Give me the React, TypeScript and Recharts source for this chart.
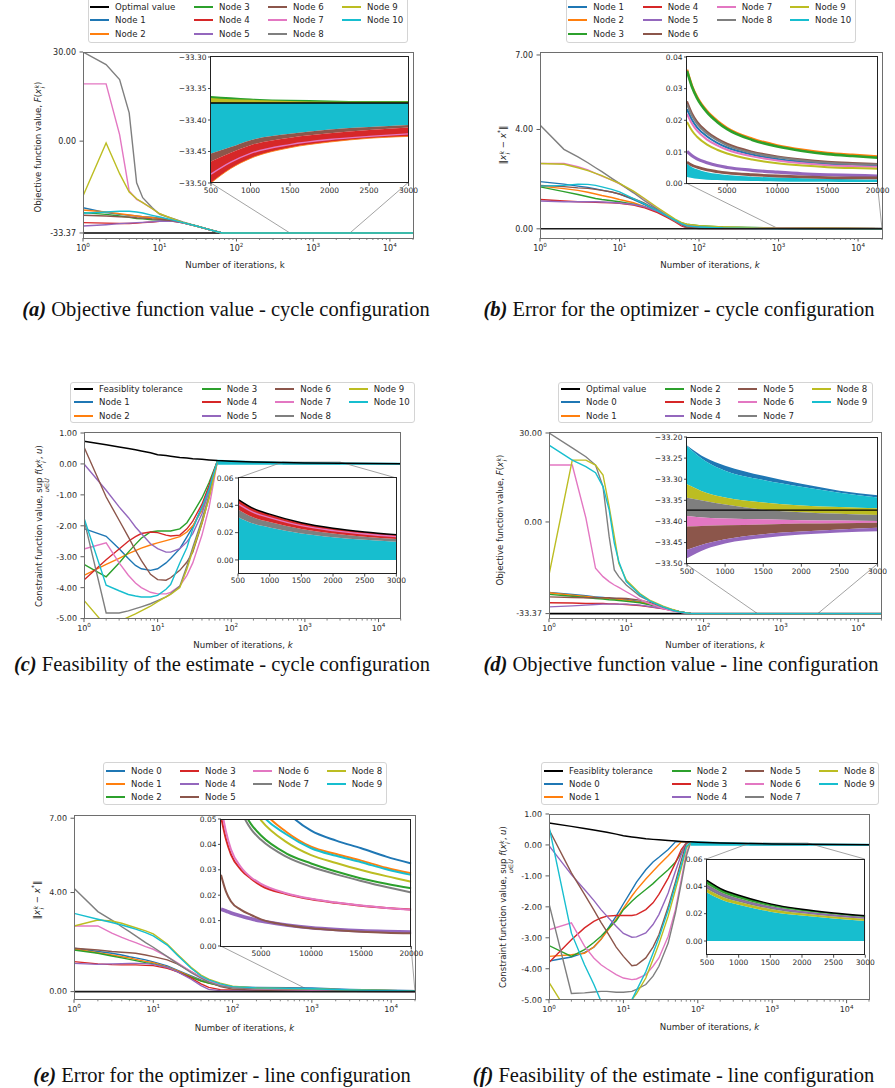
import React from 'react';
import { ComposedChart, Line, Area, XAxis, YAxis, ReferenceLine, ReferenceArea } from 'recharts';

const FONT = '"DejaVu Sans", Verdana, sans-serif';
const SERIF = '"Liberation Serif", "Times New Roman", serif';
const TXT = '#262626';
const BLUE = '#1f77b4', ORANGE = '#ff7f0e', GREEN = '#2ca02c', RED = '#d62728', PURPLE = '#9467bd';
const BROWN = '#8c564b', PINK = '#e377c2', GRAY = '#7f7f7f', OLIVE = '#bcbd22', CYAN = '#17becf', BLACK = '#000000';
const TAB = [BLUE, ORANGE, GREEN, RED, PURPLE, BROWN, PINK, GRAY, OLIVE, CYAN];

const X_MAX = 20000;
const X_TICKS = [1, 2, 3, 4, 5, 6, 7, 8, 9, 10, 20, 30, 40, 50, 60, 70, 80, 90, 100, 200, 300, 400, 500, 600, 700, 800, 900, 1000, 2000, 3000, 4000, 5000, 6000, 7000, 8000, 9000, 10000, 20000];
const TN = [null, null, null, null, null, null];

// ---------- (a) objective, cycle ----------
const K_A = [1, 2, 3, 4, 5, 6, 8, 10, 15, 20, 30, 40, 50, 65, 100, 1000, 20000];
const A_OPT = [-33.373, -33.373, -33.373, -33.373, -33.373, -33.373, -33.373, -33.373, -33.373, -33.373, -33.373, -33.373, -33.373, -33.373, -33.373, -33.373, -33.373];
const A_N1 = [-12.0, -14.7, -15.8, -16.4, -16.9, -17.4, -17.8, -18.4, -20.2, -22.1, -25.3, -28.1, -30.5, -33.37, -33.37, -33.37, -33.37];
const A_N2 = [-13.2, -14.3, -15.4, -16.2, -16.9, -17.4, -18.1, -18.7, -20.2, -22.1, -25.3, -28.1, -30.5, -33.37, -33.37, -33.37, -33.37];
const A_N3 = [-14.7, -15.8, -16.9, -17.8, -18.7, -19.0, -19.6, -19.9, -20.6, -22.3, -25.3, -28.1, -30.5, -33.37, -33.37, -33.37, -33.37];
const A_N4 = [-22.1, -22.5, -22.8, -22.8, -22.5, -22.1, -21.5, -21.0, -21.0, -22.3, -25.4, -28.2, -30.6, -33.37, -33.37, -33.37, -33.37];
const A_N5 = [-25.3, -24.0, -23.0, -22.5, -22.1, -21.8, -21.3, -20.7, -20.9, -22.3, -25.4, -28.2, -30.6, -33.37, -33.37, -33.37, -33.37];
const A_N6 = [-16.4, -16.9, -17.4, -17.6, -18.1, -18.4, -19.0, -19.3, -20.4, -22.1, -25.3, -28.1, -30.5, -33.37, -33.37, -33.37, -33.37];
const A_N7 = [8.07, 8.07, 0.29, -5.84, -8.4, -9.7, -12.5, -15.4, -19.3, -22.1, -25.3, -28.1, -30.5, -33.37, -33.37, -33.37, -33.37];
const A_N8 = [30, 18.1, 9.7, 1.97, -3.97, -7.84, -12.0, -15.8, -18.8, -21.5, -25.3, -28.1, -30.5, -33.37, -33.37, -33.37, -33.37];
const A_N9 = [-7.3, -0.07, -2.5, -6.1, -8.2, -9.7, -12.5, -15.4, -19.0, -21.8, -25.3, -28.1, -30.5, -33.37, -33.37, -33.37, -33.37];
const A_N10 = [-15.1, -14.3, -13.9, -13.9, -14.3, -14.9, -16.4, -17.6, -19.9, -22.1, -25.3, -28.1, -30.5, -33.37, -33.37, -33.37, -33.37];
const A_NODES = [A_N1, A_N2, A_N3, A_N4, A_N5, A_N6, A_N7, A_N8, A_N9, A_N10];

const KI_A = [500, 750, 1000, 1500, 2000, 2500, 3000];
const AI_OPT = [-33.373, -33.373, -33.373, -33.373, -33.373, -33.373, -33.373];
const AI_GREEN_TOP = [-33.362, -33.364, -33.366, -33.368, -33.369, -33.370, -33.370];
const AI_OLIVE_TOP = [-33.365, -33.367, -33.368, -33.370, -33.371, -33.371, -33.371];
const AI_CYAN_LO = [-33.453, -33.443, -33.432, -33.422, -33.415, -33.411, -33.408];
const AI_BROWN_LO = [-33.466, -33.452, -33.440, -33.428, -33.421, -33.416, -33.412];
const AI_RED_LO = [-33.500, -33.477, -33.461, -33.444, -33.435, -33.429, -33.426];
const AI_PINK = [-33.486, -33.467, -33.453, -33.439, -33.431, -33.426, -33.422];

// ---------- (b) error, cycle ----------
const K_B = [1, 2, 3, 4, 5, 6, 8, 10, 15, 20, 30, 40, 50, 60, 70, 100, 200, 500, 1000, 3000, 20000];
const B_N1 = [1.9, 1.8, 1.72, 1.67, 1.61, 1.56, 1.48, 1.4, 1.18, 0.99, 0.71, 0.48, 0.32, 0.19, 0.08, 0.04, 0.03, 0.026, 0.0235, 0.0149, 0.0058];
const B_N2 = [1.72, 1.62, 1.55, 1.47, 1.4, 1.34, 1.26, 1.18, 1.05, 0.91, 0.69, 0.48, 0.32, 0.19, 0.08, 0.06, 0.05, 0.042, 0.036, 0.0229, 0.0086];
const B_N3 = [1.69, 1.5, 1.38, 1.29, 1.22, 1.18, 1.13, 1.09, 0.99, 0.89, 0.69, 0.48, 0.35, 0.24, 0.19, 0.13, 0.08, 0.05, 0.0356, 0.0225, 0.0082];
const B_N4 = [1.18, 1.12, 1.09, 1.08, 1.07, 1.06, 1.05, 1.03, 0.96, 0.86, 0.65, 0.45, 0.28, 0.12, 0.04, 0.03, 0.028, 0.027, 0.026, 0.0164, 0.0062];
const B_N5 = [1.12, 1.09, 1.09, 1.09, 1.09, 1.08, 1.06, 1.04, 0.98, 0.9, 0.7, 0.5, 0.32, 0.17, 0.05, 0.02, 0.015, 0.012, 0.0102, 0.0066, 0.0024];
const B_N6 = [1.75, 1.7, 1.65, 1.63, 1.59, 1.55, 1.48, 1.4, 1.21, 1.05, 0.75, 0.51, 0.35, 0.19, 0.05, 0.015, 0.01, 0.008, 0.0068, 0.0043, 0.0018];
const B_N7 = [2.63, 2.63, 2.5, 2.37, 2.23, 2.12, 1.96, 1.81, 1.49, 1.22, 0.82, 0.55, 0.35, 0.21, 0.15, 0.09, 0.05, 0.03, 0.022, 0.0139, 0.0053];
const B_N8 = [4.18, 3.2, 2.9, 2.66, 2.46, 2.3, 2.03, 1.83, 1.45, 1.16, 0.78, 0.51, 0.31, 0.19, 0.13, 0.09, 0.05, 0.032, 0.025, 0.0158, 0.006];
const B_N9 = [2.63, 2.6, 2.46, 2.34, 2.23, 2.14, 1.96, 1.83, 1.52, 1.25, 0.86, 0.59, 0.39, 0.26, 0.19, 0.13, 0.08, 0.03, 0.0195, 0.0123, 0.0047];
const B_N10 = [1.72, 1.75, 1.8, 1.79, 1.75, 1.69, 1.59, 1.49, 1.22, 1.02, 0.73, 0.51, 0.35, 0.21, 0.12, 0.07, 0.03, 0.01, 0.005, 0.003, 0.0012];
const B_NODES = [B_N1, B_N2, B_N3, B_N4, B_N5, B_N6, B_N7, B_N8, B_N9, B_N10];

const KI_B = [1000, 1500, 2000, 3000, 4000, 5000, 7500, 10000, 12500, 15000, 17500, 20000];
const BI_GREEN = [0.0356, 0.0305, 0.027, 0.0225, 0.0195, 0.0172, 0.0138, 0.0117, 0.0103, 0.0093, 0.0087, 0.0082];
const BI_ORANGE = [0.036, 0.0309, 0.0274, 0.0229, 0.0199, 0.0176, 0.0142, 0.0121, 0.0107, 0.0097, 0.0091, 0.0086];
const BI_RED = [0.026, 0.0222, 0.0196, 0.0164, 0.0142, 0.0126, 0.0101, 0.0086, 0.0076, 0.0069, 0.0065, 0.0062];
const BI_GRAY = [0.025, 0.0214, 0.0189, 0.0158, 0.0137, 0.0121, 0.0097, 0.0083, 0.0073, 0.0066, 0.0062, 0.006];
const BI_BLUE = [0.0235, 0.0201, 0.0178, 0.0149, 0.0129, 0.0114, 0.0092, 0.0078, 0.0069, 0.0063, 0.006, 0.0058];
const BI_PINK = [0.022, 0.0189, 0.0167, 0.0139, 0.0121, 0.0107, 0.0086, 0.0073, 0.0064, 0.0058, 0.0055, 0.0053];
const BI_OLIVE = [0.0195, 0.0167, 0.0148, 0.0123, 0.0107, 0.0095, 0.0076, 0.0064, 0.0057, 0.0052, 0.0049, 0.0047];
const BI_PURPLE = [0.0102, 0.0088, 0.0078, 0.0066, 0.0057, 0.0051, 0.0042, 0.0036, 0.0031, 0.0028, 0.0026, 0.0024];
const BI_BROWN = [0.0068, 0.0058, 0.0052, 0.0043, 0.0038, 0.0034, 0.0028, 0.0024, 0.0021, 0.0019, 0.0018, 0.0018];
const BI_CYAN_HI = [0.0063, 0.0052, 0.0045, 0.0036, 0.0031, 0.0027, 0.0022, 0.0019, 0.0017, 0.0015, 0.0014, 0.0013];
const BI_CYAN_LO = [0.0021, 0.0018, 0.0015, 0.0012, 0.0011, 0.001, 0.0008, 0.0007, 0.0006, 0.0006, 0.0005, 0.0005];

// ---------- (c) feasibility, cycle ----------
const K_C = [1, 2, 3, 4, 5, 6, 8, 10, 13, 15, 20, 25, 30, 40, 50, 65, 100, 200, 500, 1000, 3000, 20000];
const C_TOL = [0.73, 0.62, 0.55, 0.5, 0.46, 0.42, 0.36, 0.3, 0.27, 0.25, 0.21, 0.19, 0.17, 0.15, 0.13, 0.11, 0.09, 0.065, 0.044, 0.033, 0.019, 0.007];
const C_BAND = [null, null, null, null, null, null, null, null, null, null, null, null, null, null, null, [0, 0.11], [0, 0.09], [0, 0.065], [0, 0.044], [0, 0.033], [0, 0.019], [0, 0.007]];
const C_N1 = [-2.09, -2.34, -2.74, -3.06, -3.28, -3.39, -3.44, -3.39, -3.2, -3.06, -2.74, -2.36, -2.04, -1.39, -0.74, 0.1, ...TN];
const C_N2 = [-3.6, -3.25, -3.05, -2.9, -2.8, -2.72, -2.62, -2.55, -2.48, -2.44, -2.35, -2.2, -2.0, -1.5, -0.85, 0.1, ...TN];
const C_N3 = [-3.25, -3.65, -3.2, -2.85, -2.6, -2.4, -2.2, -2.17, -2.17, -2.17, -2.1, -1.9, -1.6, -1.1, -0.6, 0.1, ...TN];
const C_N4 = [-3.75, -3.1, -2.75, -2.5, -2.35, -2.25, -2.2, -2.22, -2.3, -2.33, -2.3, -2.1, -1.85, -1.3, -0.7, 0.1, ...TN];
const C_N5 = [0.0, -0.85, -1.39, -1.73, -2.04, -2.25, -2.58, -2.74, -2.85, -2.85, -2.74, -2.52, -2.25, -1.61, -0.85, 0.1, ...TN];
const C_N6 = [0.55, -1.07, -1.82, -2.36, -2.79, -3.12, -3.57, -3.74, -3.76, -3.68, -3.44, -3.17, -2.85, -1.93, -1.07, 0.1, ...TN];
const C_N7 = [-2.75, -2.55, -3.2, -3.6, -3.85, -4.0, -4.15, -4.2, -4.2, -4.15, -3.95, -3.6, -3.2, -2.3, -1.4, 0.1, ...TN];
const C_N8 = [-1.8, -4.82, -4.82, -4.75, -4.68, -4.62, -4.52, -4.42, -4.3, -4.2, -3.95, -3.3, -2.7, -1.8, -1.0, 0.1, ...TN];
const C_N9 = [-4.41, -5.25, -5.1, -4.95, -4.85, -4.75, -4.6, -4.45, -4.3, -4.22, -4.0, -3.4, -2.8, -1.9, -1.1, 0.1, ...TN];
const C_N10 = [-1.75, -3.92, -4.1, -4.22, -4.27, -4.3, -4.3, -4.25, -4.05, -3.9, -3.2, -2.7, -2.1, -1.4, -0.8, 0.1, ...TN];
const C_NODES = [C_N1, C_N2, C_N3, C_N4, C_N5, C_N6, C_N7, C_N8, C_N9, C_N10];

const KI_C = [500, 750, 1000, 1500, 2000, 2500, 3000];
const ZERO7 = [0, 0, 0, 0, 0, 0, 0];
const CI_TOL = [0.0444, 0.0375, 0.0335, 0.0272, 0.0232, 0.0205, 0.0185];
const CI_PINK = [0.041, 0.0346, 0.031, 0.0251, 0.0215, 0.019, 0.0171];
const CI_RED_LO = [0.037, 0.031, 0.0278, 0.0226, 0.0193, 0.017, 0.0153];
const CI_CYAN_HI = [0.0315, 0.0265, 0.0238, 0.0193, 0.0166, 0.0147, 0.0133];

// ---------- (d) objective, line ----------
const K_D = [1, 2, 3, 4, 5, 6, 7, 8, 10, 15, 20, 30, 40, 50, 70, 100, 1000, 20000];
const D_OPT = [-33.373, -33.373, -33.373, -33.373, -33.373, -33.373, -33.373, -33.373, -33.373, -33.373, -33.373, -33.373, -33.373, -33.373, -33.373, -33.373, -33.373, -33.373];
const D_N0 = [-14.2, -15.4, -16.3, -17.0, -17.5, -18.0, -18.2, -18.5, -19.0, -20.8, -22.9, -26.1, -29.2, -31.2, -33.37, -33.37, -33.37, -33.37];
const D_N1 = [-14.4, -15.9, -16.8, -17.5, -18.0, -18.5, -18.7, -19.0, -19.4, -21.1, -22.9, -26.1, -29.2, -31.2, -33.37, -33.37, -33.37, -33.37];
const D_N2 = [-15.4, -16.6, -17.5, -18.2, -18.7, -19.2, -19.4, -19.7, -20.3, -21.6, -23.5, -26.5, -29.2, -31.2, -33.37, -33.37, -33.37, -33.37];
const D_N3 = [-21.6, -21.9, -22.3, -22.3, -22.3, -22.6, -22.6, -22.9, -23.2, -24.1, -25.5, -27.6, -29.6, -31.6, -33.37, -33.37, -33.37, -33.37];
const D_N4 = [-25.5, -24.5, -23.8, -23.2, -22.9, -22.9, -22.9, -22.9, -22.9, -23.8, -25.1, -27.3, -29.6, -31.6, -33.37, -33.37, -33.37, -33.37];
const D_N5 = [-17.0, -17.5, -17.7, -17.7, -17.7, -17.7, -18.0, -18.0, -18.2, -19.4, -21.3, -25.5, -28.8, -31.2, -33.37, -33.37, -33.37, -33.37];
const D_N6 = [8.0, 8.0, 0.17, -4.98, -7.26, -9.0, -10.4, -11.5, -13.8, -18.9, -22.3, -27.4, -30.2, -31.6, -33.37, -33.37, -33.37, -33.37];
const D_N7 = [30, 16.5, 11.4, 8.0, 2.92, -0.75, -5.37, -7.26, -10.4, -16.5, -20.0, -25.5, -29.2, -31.2, -33.37, -33.37, -33.37, -33.37];
const D_N8 = [-6.74, 9.9, 9.9, 8.0, 5.13, 0.82, -0.75, -3.92, -8.4, -14.8, -19.4, -24.9, -28.4, -31.2, -33.37, -33.37, -33.37, -33.37];
const D_N9 = [18.4, 9.9, 7.44, 5.7, 2.92, 0.6, -1.26, -3.6, -9.0, -15.4, -20.0, -25.5, -29.2, -31.4, -33.37, -33.37, -33.37, -33.37];
const D_NODES = [D_N0, D_N1, D_N2, D_N3, D_N4, D_N5, D_N6, D_N7, D_N8, D_N9];

const KI_D = [500, 750, 1000, 1500, 2000, 2500, 3000];
const DI_OPT = [-33.373, -33.373, -33.373, -33.373, -33.373, -33.373, -33.373];
const DI_BLUE_TOP = [-33.220, -33.250, -33.268, -33.292, -33.311, -33.327, -33.338];
const DI_CYAN_TOP = [-33.222, -33.258, -33.280, -33.302, -33.318, -33.332, -33.343];
const DI_OLIVE_TOP = [-33.312, -33.332, -33.343, -33.355, -33.362, -33.366, -33.369];
const DI_GRAY_TOP = [-33.344, -33.352, -33.360, -33.372, -33.378, -33.382, -33.385];
const DI_PINK_TOP = [-33.387, -33.391, -33.393, -33.395, -33.397, -33.398, -33.399];
const DI_BROWN_TOP = [-33.412, -33.410, -33.409, -33.407, -33.405, -33.404, -33.403];
const DI_PURPLE_TOP = [-33.467, -33.452, -33.442, -33.430, -33.424, -33.419, -33.415];
const DI_PURPLE_LO = [-33.487, -33.465, -33.452, -33.439, -33.431, -33.426, -33.423];

// ---------- (e) error, line ----------
const K_E = [1, 2, 3, 4, 5, 6, 8, 10, 15, 20, 30, 40, 50, 70, 100, 200, 500, 1000, 3000, 20000];
const E_N0 = [1.75, 1.62, 1.55, 1.48, 1.41, 1.36, 1.28, 1.2, 1.04, 0.87, 0.63, 0.47, 0.36, 0.26, 0.2, 0.17, 0.155, 0.145, 0.084, 0.0325];
const E_N1 = [1.72, 1.57, 1.48, 1.41, 1.36, 1.3, 1.22, 1.17, 1.0, 0.85, 0.6, 0.44, 0.34, 0.24, 0.17, 0.14, 0.13, 0.12, 0.07, 0.0286];
const E_N2 = [1.68, 1.55, 1.44, 1.36, 1.3, 1.25, 1.17, 1.12, 0.98, 0.81, 0.58, 0.43, 0.34, 0.23, 0.15, 0.115, 0.1, 0.095, 0.055, 0.0227];
const E_N3 = [1.21, 1.12, 1.09, 1.08, 1.08, 1.08, 1.06, 1.05, 0.94, 0.81, 0.54, 0.31, 0.17, 0.08, 0.07, 0.065, 0.058, 0.051, 0.03, 0.0144];
const E_N4 = [1.14, 1.1, 1.12, 1.13, 1.14, 1.14, 1.13, 1.1, 0.98, 0.81, 0.5, 0.24, 0.09, 0.04, 0.03, 0.022, 0.017, 0.0145, 0.0118, 0.0055];
const E_N5 = [1.75, 1.68, 1.62, 1.59, 1.57, 1.55, 1.48, 1.41, 1.28, 1.12, 0.81, 0.58, 0.4, 0.2, 0.1, 0.06, 0.04, 0.028, 0.0142, 0.005];
const E_N6 = [2.65, 2.65, 2.36, 2.19, 2.07, 1.98, 1.82, 1.71, 1.41, 1.17, 0.81, 0.58, 0.43, 0.27, 0.16, 0.1, 0.07, 0.055, 0.031, 0.0143];
const E_N7 = [4.17, 3.23, 2.89, 2.62, 2.42, 2.25, 1.98, 1.79, 1.41, 1.14, 0.77, 0.54, 0.38, 0.23, 0.15, 0.11, 0.1, 0.09, 0.053, 0.0211];
const E_N8 = [2.65, 2.89, 2.85, 2.76, 2.66, 2.58, 2.45, 2.33, 1.92, 1.52, 0.98, 0.67, 0.5, 0.34, 0.22, 0.15, 0.12, 0.11, 0.064, 0.0253];
const E_N9 = [3.16, 2.92, 2.79, 2.69, 2.6, 2.52, 2.38, 2.25, 1.88, 1.48, 0.94, 0.63, 0.47, 0.31, 0.2, 0.15, 0.13, 0.115, 0.068, 0.028];
const E_NODES = [E_N0, E_N1, E_N2, E_N3, E_N4, E_N5, E_N6, E_N7, E_N8, E_N9];

const KI_E = [1000, 1500, 2000, 3000, 4000, 5000, 7500, 10000, 12500, 15000, 17500, 20000];
const EI_N0 = [0.145, 0.118, 0.103, 0.084, 0.073, 0.065, 0.053, 0.0454, 0.0415, 0.0385, 0.0352, 0.0325];
const EI_N1 = [0.12, 0.098, 0.085, 0.07, 0.06, 0.054, 0.045, 0.0391, 0.0362, 0.0336, 0.0308, 0.0286];
const EI_N2 = [0.095, 0.077, 0.066, 0.055, 0.048, 0.0435, 0.0365, 0.0325, 0.0293, 0.0266, 0.0245, 0.0227];
const EI_N3 = [0.051, 0.042, 0.036, 0.030, 0.0265, 0.0238, 0.0205, 0.0184, 0.017, 0.0158, 0.015, 0.0144];
const EI_N4 = [0.0145, 0.0138, 0.013, 0.0118, 0.0107, 0.0098, 0.0083, 0.0072, 0.0065, 0.006, 0.0057, 0.0055];
const EI_N5 = [0.028, 0.0214, 0.0175, 0.0142, 0.0122, 0.0105, 0.0083, 0.007, 0.0062, 0.0056, 0.0052, 0.005];
const EI_N6 = [0.055, 0.045, 0.038, 0.031, 0.027, 0.0245, 0.0208, 0.0186, 0.0171, 0.0159, 0.015, 0.0143];
const EI_N7 = [0.09, 0.073, 0.063, 0.053, 0.046, 0.0418, 0.0352, 0.0312, 0.0282, 0.0256, 0.0232, 0.0211];
const EI_N8 = [0.11, 0.09, 0.078, 0.064, 0.055, 0.0495, 0.041, 0.0358, 0.0327, 0.0299, 0.0275, 0.0253];
const EI_N9 = [0.115, 0.094, 0.082, 0.068, 0.058, 0.052, 0.044, 0.0385, 0.0355, 0.033, 0.0302, 0.028];
const EI_NODES = [EI_N0, EI_N1, EI_N2, EI_N3, EI_N4, EI_N5, EI_N6, EI_N7, EI_N8, EI_N9];

// ---------- (f) feasibility, line ----------
const K_F = [1, 2, 3, 4, 5, 6, 8, 10, 13, 15, 20, 25, 30, 40, 50, 60, 70, 80, 100, 200, 500, 1000, 3000, 20000];
const F_TOL = [0.71, 0.6, 0.53, 0.48, 0.44, 0.41, 0.35, 0.3, 0.26, 0.24, 0.2, 0.18, 0.165, 0.145, 0.13, 0.115, 0.105, 0.1, 0.09, 0.065, 0.044, 0.033, 0.019, 0.007];
const F_BAND = [null, null, null, null, null, null, null, null, null, null, null, null, null, null, null, null, null, [0, 0.1], [0, 0.09], [0, 0.065], [0, 0.044], [0, 0.033], [0, 0.019], [0, 0.007]];
const F_N0 = [-3.75, -3.62, -3.48, -3.3, -3.05, -2.75, -2.3, -1.9, -1.45, -1.2, -0.8, -0.55, -0.4, -0.15, 0.1, 0.1, 0.1, 0.1, ...TN];
const F_N1 = [-3.6, -3.55, -3.5, -3.3, -3.05, -2.8, -2.4, -2.05, -1.65, -1.45, -1.1, -0.85, -0.65, -0.35, -0.1, 0.1, 0.1, 0.1, ...TN];
const F_N2 = [-3.25, -3.6, -3.38, -3.15, -2.95, -2.75, -2.45, -2.09, -1.82, -1.68, -1.44, -1.25, -1.07, -0.8, -0.56, -0.26, 0.07, 0.1, ...TN];
const F_N3 = [-3.8, -3.06, -2.68, -2.47, -2.36, -2.3, -2.28, -2.28, -2.28, -2.25, -2.09, -1.87, -1.6, -1.07, -0.58, -0.15, 0.07, 0.1, ...TN];
const F_N4 = [-0.02, -0.96, -1.44, -1.79, -2.09, -2.3, -2.63, -2.86, -2.98, -2.97, -2.84, -2.57, -2.25, -1.55, -0.85, -0.31, 0.07, 0.1, ...TN];
const F_N5 = [0.5, -0.9, -1.6, -2.1, -2.5, -2.8, -3.3, -3.6, -3.9, -3.88, -3.65, -3.3, -2.9, -2.0, -1.2, -0.5, 0.05, 0.1, ...TN];
const F_N6 = [-2.74, -2.52, -3.27, -3.65, -3.87, -4.0, -4.19, -4.3, -4.35, -4.33, -4.19, -3.92, -3.65, -2.95, -2.09, -1.12, -0.26, 0.08, ...TN];
const F_N7 = [-1.9, -4.8, -4.78, -4.75, -4.73, -4.73, -4.76, -4.76, -4.73, -4.67, -4.51, -4.24, -3.92, -3.17, -2.2, -1.23, -0.37, 0.08, ...TN];
const F_N8 = [-4.44, -5.6, -6.0, -6.2, -6.3, -6.3, -6.0, -5.4, -5.0, -4.8, -4.3, -3.7, -3.2, -2.3, -1.45, -0.75, -0.1, 0.08, ...TN];
const F_N9 = [0.6, -2.85, -3.87, -4.5, -5.05, -5.4, -5.6, -5.4, -5.0, -4.7, -4.1, -3.5, -3.0, -2.1, -1.3, -0.65, -0.05, 0.08, ...TN];
const F_NODES = [F_N0, F_N1, F_N2, F_N3, F_N4, F_N5, F_N6, F_N7, F_N8, F_N9];

const KI_F = [500, 750, 1000, 1500, 2000, 2500, 3000];
const FI_TOL = [0.0444, 0.0375, 0.0335, 0.0272, 0.0232, 0.0205, 0.0185];
const FI_GREEN_LO = [0.0415, 0.0352, 0.0313, 0.0256, 0.022, 0.0195, 0.0175];
const FI_PURPLE = [0.0398, 0.0337, 0.03, 0.0246, 0.0212, 0.0188, 0.0169];
const FI_GRAY_LO = [0.038, 0.0322, 0.0287, 0.0235, 0.0203, 0.018, 0.0163];
const FI_CYAN_HI = [0.0355, 0.0298, 0.0265, 0.0215, 0.0186, 0.0164, 0.0146];

// ---------- tick labels ----------
const Y_OBJ = [-33.373, 0, 30];
const Y_ERR = [0, 4, 7];
const Y_CON = [-5, -4, -3, -2, -1, 0, 1];
const YI_OBJ_A = [-33.5, -33.45, -33.4, -33.35, -33.3];
const YI_OBJ_D = [-33.5, -33.45, -33.4, -33.35, -33.3, -33.25, -33.2];
const YI_ERR_B = [0, 0.01, 0.02, 0.03, 0.04];
const YI_ERR_E = [0, 0.01, 0.02, 0.03, 0.04, 0.05];
const YI_CON = [0, 0.02, 0.04, 0.06];
const XI_SHORT = [500, 1000, 1500, 2000, 2500, 3000];
const XI_LONG = [5000, 10000, 15000, 20000];

// ---------- layout boxes ----------
const BOX_A = { L: 83.3, T: 52, W: 330, H: 186 };
const BOX_AI = { L: 210.7, T: 56.7, W: 197.6, H: 126 };
const BOX_B = { L: 540, T: 52, W: 342, H: 186 };
const BOX_BI = { L: 686.7, T: 56.7, W: 190.6, H: 126.6 };
const BOX_C = { L: 84.3, T: 432.7, W: 316.7, H: 185.6 };
const BOX_CI = { L: 238.3, T: 477.7, W: 158.4, H: 95.6 };
const BOX_D = { L: 549.3, T: 432.7, W: 332.4, H: 185.6 };
const BOX_DI = { L: 686.7, T: 437.3, W: 190.6, H: 126.7 };
const BOX_E = { L: 74, T: 815, W: 341, H: 184.3 };
const BOX_EI = { L: 220.7, T: 819, W: 190.3, H: 127 };
const BOX_F = { L: 549.3, T: 814.3, W: 320, H: 185.7 };
const BOX_FI = { L: 706.7, T: 859.3, W: 158.3, H: 95.7 };

const DOM_OBJ = [-40.7, 30];
const DOM_B = [-0.37, 7.12];
const DOM_E = [-0.31, 7.13];
const DOM_CON = [-5, 1];

// ---------- helpers ----------
function mkTable(ks: number[], nodes: any[][], extra: Record<string, any[]> = {}) {
  return ks.map((k, i) => {
    const o: any = { k };
    nodes.forEach((s, j) => { o['n' + j] = s[i]; });
    Object.keys(extra).forEach((key) => { o[key] = extra[key][i]; });
    return o;
  });
}
function band(lo: number[], hi: number[]) { return lo.map((v, i) => [v, hi[i]]); }
const fmt2 = (v: number) => v.toFixed(2);
const fmtU = (v: number) => (v < 0 ? '\u2212' : '') + Math.abs(v).toFixed(2);
const fmtI = (v: number) => String(v);

function invLogX(px: number, b: any) { return Math.pow(10, ((px - b.L) / b.W) * Math.log10(X_MAX)); }
function invLinY(py: number, b: any, d: number[]) { return d[1] - ((py - b.T) / b.H) * (d[1] - d[0]); }
function invSymY(py: number, b: any, d: number[]) {
  const f = (v: number) => Math.sign(v) * Math.log1p(Math.abs(v));
  const t = f(d[1]) - ((py - b.T) / b.H) * (f(d[1]) - f(d[0]));
  return Math.sign(t) * Math.expm1(Math.abs(t));
}

const LW = 1.4;
const ln = (key: string, color: string, w = LW, type: any = 'linear') => (
  <Line key={key} dataKey={key} stroke={color} strokeWidth={w} dot={false} activeDot={false} isAnimationActive={false} type={type} />
);
const ar = (key: string, color: string, stroke: string = 'none', sw = 0, type: any = 'monotone') => (
  <Area key={key} dataKey={key} stroke={stroke} strokeWidth={sw} fill={color} fillOpacity={1} isAnimationActive={false} type={type} dot={false} activeDot={false} />
);
const seg = (key: string, p1: any, p2: any) => (
  <ReferenceLine key={key} segment={[p1, p2]} stroke="#8c8c8c" strokeWidth={0.8} ifOverflow="visible" />
);

const TS = 3.5, TM = 3;
function LogTick(p: any) {
  const { x, y, payload } = p;
  const v = payload.value;
  const e = Math.log10(v);
  const major = Math.abs(e - Math.round(e)) < 1e-9;
  const y0 = y - TS - TM;
  return (
    <g>
      <line x1={x} x2={x} y1={y0} y2={y0 + (major ? 3.5 : 2)} stroke="#333" strokeWidth={major ? 0.8 : 0.6} />
      {major ? (
        <text x={x} y={y0 + 12.5} textAnchor="middle" fontSize={8} fontFamily={FONT} fill={TXT}>
          10<tspan dy={-3.6} fontSize={5.6}>{Math.round(e)}</tspan>
        </text>
      ) : null}
    </g>
  );
}

function MainChart({ box, data, yScale, yDomain, yTicks, yFmt, children }: any) {
  const PL = 44, PT = 8, PR = 16, PB = 22;
  return (
    <>
      <div style={{ position: 'absolute', left: box.L - PL, top: box.T - PT }}>
        <ComposedChart width={box.W + PL + PR} height={box.H + PT + PB} data={data} margin={{ top: PT, right: PR, bottom: 0, left: 0 }}>
          <XAxis dataKey="k" type="number" scale="log" domain={[1, X_MAX]} allowDataOverflow ticks={X_TICKS} interval={0}
            height={PB} axisLine={false} tickLine={false} tickSize={TS} tickMargin={TM} tick={(p: any) => <LogTick {...p} />} />
          <YAxis type="number" scale={yScale} domain={yDomain} allowDataOverflow ticks={yTicks} interval={0} tickFormatter={yFmt}
            width={PL} axisLine={false} tickSize={3.5} tickMargin={3.5}
            tick={{ fontSize: 8, fill: TXT, fontFamily: FONT }} tickLine={{ stroke: '#333', strokeWidth: 0.8 }} />
          {children}
        </ComposedChart>
      </div>
      <div style={{ position: 'absolute', left: box.L - 0.5, top: box.T - 0.5, width: box.W + 1, height: box.H + 1, border: '1px solid #6e6e6e', boxSizing: 'border-box', pointerEvents: 'none' }} />
    </>
  );
}

function InsetChart({ box, data, xDomain, xTicks, yDomain, yTicks, yFmt, children }: any) {
  const PL = 36, PT = 6, PR = 16, PB = 16;
  return (
    <>
      <div style={{ position: 'absolute', left: box.L, top: box.T, width: box.W, height: box.H, background: '#fff' }} />
      <div style={{ position: 'absolute', left: box.L - PL, top: box.T - PT }}>
        <ComposedChart width={box.W + PL + PR} height={box.H + PT + PB} data={data} margin={{ top: PT, right: PR, bottom: 0, left: 0 }}>
          <XAxis dataKey="k" type="number" domain={xDomain} allowDataOverflow ticks={xTicks} interval={0} height={PB}
            axisLine={false} tickSize={3} tickMargin={1.5} tickFormatter={fmtI}
            tick={{ fontSize: 7.5, fill: TXT, fontFamily: FONT }} tickLine={{ stroke: '#222', strokeWidth: 0.8 }} />
          <YAxis type="number" domain={yDomain} allowDataOverflow ticks={yTicks} interval={0} tickFormatter={yFmt} width={PL}
            axisLine={false} tickSize={3} tickMargin={1.5}
            tick={{ fontSize: 7.5, fill: TXT, fontFamily: FONT }} tickLine={{ stroke: '#222', strokeWidth: 0.8 }} />
          {children}
        </ComposedChart>
      </div>
      <div style={{ position: 'absolute', left: box.L - 0.5, top: box.T - 0.5, width: box.W + 1, height: box.H + 1, border: '1px solid #222', boxSizing: 'border-box', pointerEvents: 'none' }} />
    </>
  );
}

function LegendBox({ box, colX, rowY, cols }: any) {
  return (
    <>
      <div style={{ position: 'absolute', left: box[0], top: box[1], width: box[2], height: box[3], border: '1px solid #d4d4d4', borderRadius: 3, background: '#fff', boxSizing: 'border-box' }} />
      {cols.map((col: any[], c: number) => col.map((it: any[], r: number) => (
        <React.Fragment key={c + '-' + r}>
          <div style={{ position: 'absolute', left: Math.round(colX[c]), top: Math.round(rowY[r]) - 1, width: 19, height: 2, background: it[1] }} />
          <div style={{ position: 'absolute', left: colX[c] + 25, top: rowY[r], transform: 'translateY(-50%)', fontSize: 8.6, lineHeight: 1, fontFamily: FONT, color: TXT, whiteSpace: 'nowrap' }}>{it[0]}</div>
        </React.Fragment>
      )))}
    </>
  );
}

function Lab({ cx, cy, rot, children }: any) {
  return (
    <div style={{ position: 'absolute', left: cx, top: cy, transform: 'translate(-50%,-50%)' + (rot ? ' rotate(-90deg)' : ''), whiteSpace: 'nowrap', fontSize: 8.6, fontFamily: FONT, color: TXT, lineHeight: 1 }}>{children}</div>
  );
}
const XIK = () => (
  <span style={{ fontStyle: 'italic' }}>x<span style={{ display: 'inline-flex', flexDirection: 'column', fontSize: '0.72em', lineHeight: 0.95, verticalAlign: '0.35em', marginLeft: '0.05em' }}><span>k</span><span>i</span></span></span>
);
const SupU = () => (
  <span style={{ display: 'inline-flex', flexDirection: 'column', alignItems: 'center', lineHeight: 1, verticalAlign: 'top' }}><span>sup</span><span style={{ fontSize: '0.72em', fontStyle: 'italic' }}>u∈U</span></span>
);
const ObjLabel = () => (<span>Objective function value, <i>F</i>(<XIK />)</span>);
const ErrLabel = () => (<span>‖<XIK /> − <i>x</i><sup style={{ fontSize: '0.72em' }}>*</sup>‖</span>);
const ConLabel = () => (<span>Constraint function value, <SupU /> <i>f</i>(<XIK />, <i>u</i>)</span>);

function Caption({ cx, cy, letter, text }: any) {
  return (
    <div style={{ position: 'absolute', left: cx - 300, width: 600, top: cy - 12, textAlign: 'center', fontFamily: SERIF, fontSize: 20.5, lineHeight: '24px', color: '#111', whiteSpace: 'nowrap' }}>
      <b><i>({letter})</i></b> {text}
    </div>
  );
}

const colsOf = (labels: string[], colors: string[], sizes: number[]) => {
  const out: any[] = []; let i = 0;
  sizes.forEach((s) => { const c: any[] = []; for (let r = 0; r < s; r++) { c.push([labels[i], colors[i]]); i++; } out.push(c); });
  return out;
};
const NODES_1 = ['Node 1', 'Node 2', 'Node 3', 'Node 4', 'Node 5', 'Node 6', 'Node 7', 'Node 8', 'Node 9', 'Node 10'];
const NODES_0 = ['Node 0', 'Node 1', 'Node 2', 'Node 3', 'Node 4', 'Node 5', 'Node 6', 'Node 7', 'Node 8', 'Node 9'];

// ---------- tables ----------
const DATA_A = mkTable(K_A, A_NODES, { opt: A_OPT });
const DATA_AI = mkTable(KI_A, [], {
  cyan: band(AI_CYAN_LO, AI_OPT), brown: band(AI_BROWN_LO, AI_CYAN_LO), red: band(AI_RED_LO, AI_BROWN_LO),
  green: band(AI_OPT, AI_GREEN_TOP), olive: band(AI_OPT, AI_OLIVE_TOP), pink: AI_PINK, orange: AI_RED_LO, opt: AI_OPT,
});
const DATA_B = mkTable(K_B, B_NODES);
const DATA_BI = mkTable(KI_B, [BI_BLUE, BI_ORANGE, BI_GREEN, BI_RED, BI_PURPLE, BI_BROWN, BI_PINK, BI_GRAY, BI_OLIVE], { cyan: band(BI_CYAN_LO, BI_CYAN_HI) });
const DATA_C = mkTable(K_C, C_NODES, { tol: C_TOL, band: C_BAND });
const DATA_CI = mkTable(KI_C, [], { cyan: band(ZERO7, CI_CYAN_HI), gray: band(CI_CYAN_HI, CI_RED_LO), red: band(CI_RED_LO, CI_TOL), pink: CI_PINK, tol: CI_TOL });
const DATA_D = mkTable(K_D, D_NODES, { opt: D_OPT });
const DATA_DI = mkTable(KI_D, [], {
  blue: band(DI_CYAN_TOP, DI_BLUE_TOP), cyan: band(DI_OLIVE_TOP, DI_CYAN_TOP), olive: band(DI_GRAY_TOP, DI_OLIVE_TOP),
  gray: band(DI_PINK_TOP, DI_GRAY_TOP), pink: band(DI_BROWN_TOP, DI_PINK_TOP), brown: band(DI_PURPLE_TOP, DI_BROWN_TOP),
  purple: band(DI_PURPLE_LO, DI_PURPLE_TOP), opt: DI_OPT,
});
const DATA_E = mkTable(K_E, E_NODES);
const DATA_EI = mkTable(KI_E, EI_NODES);
const DATA_F = mkTable(K_F, F_NODES, { tol: F_TOL, band: F_BAND });
const DATA_FI = mkTable(KI_F, [], { cyan: band(ZERO7, FI_CYAN_HI), olive: band(FI_CYAN_HI, FI_GRAY_LO), gray: band(FI_GRAY_LO, FI_GREEN_LO), green: band(FI_GREEN_LO, FI_TOL), purple: FI_PURPLE, tol: FI_TOL });

const nodeLines = (n: number) => TAB.slice(0, n).map((c, j) => ln('n' + j, c));

export default function App() {
  const bl = (b: any) => b.T + b.H;
  return (
    <div style={{ position: 'absolute', left: 0, top: 0, width: 895, height: 1088, background: '#fff', overflow: 'hidden' }}>
      {/* (a) */}
      <MainChart box={BOX_A} data={DATA_A} yScale="symlog" yDomain={DOM_OBJ} yTicks={Y_OBJ} yFmt={fmt2}>
        <ReferenceArea x1={500} x2={3000} y1={-33.5} y2={-33.3} stroke="#8c8c8c" fill="none" strokeWidth={0.8} ifOverflow="visible" />
        {seg('a1', { x: 500, y: -33.5 }, { x: invLogX(BOX_AI.L, BOX_A), y: invSymY(bl(BOX_AI), BOX_A, DOM_OBJ) })}
        {seg('a2', { x: 3000, y: -33.5 }, { x: invLogX(BOX_AI.L + BOX_AI.W, BOX_A), y: invSymY(bl(BOX_AI), BOX_A, DOM_OBJ) })}
        {ln('opt', BLACK, 1.6)}
        {nodeLines(10)}
      </MainChart>
      <InsetChart box={BOX_AI} data={DATA_AI} xDomain={[500, 3000]} xTicks={XI_SHORT} yDomain={[-33.5, -33.3]} yTicks={YI_OBJ_A} yFmt={fmtU}>
        {ar('cyan', CYAN)}
        {ar('brown', BROWN)}
        {ar('red', RED)}
        {ar('green', GREEN)}
        {ar('olive', OLIVE)}
        {ln('pink', PINK, 1.4, 'monotone')}
        {ln('orange', ORANGE, 0.8, 'monotone')}
        {ln('opt', BLACK, 1.4, 'monotone')}
      </InsetChart>
      <LegendBox box={[88, -3, 320, 46]} colX={[90, 194, 268, 342]} rowY={[7, 20.3, 33.7]}
        cols={colsOf(['Optimal value', ...NODES_1], [BLACK, ...TAB], [3, 3, 3, 2])} />
      <Lab cx={235} cy={265}>Number of iterations, k</Lab>
      <Lab cx={40} cy={147} rot><ObjLabel /></Lab>
      <Caption cx={226} cy={309} letter="a" text="Objective function value - cycle configuration" />

      {/* (b) */}
      <MainChart box={BOX_B} data={DATA_B} yScale="linear" yDomain={DOM_B} yTicks={Y_ERR} yFmt={fmt2}>
        <ReferenceArea x1={1000} x2={20000} y1={0} y2={0.04} stroke="#8c8c8c" fill="none" strokeWidth={0.8} ifOverflow="visible" />
        {seg('b1', { x: 1000, y: 0 }, { x: invLogX(BOX_BI.L, BOX_B), y: invLinY(bl(BOX_BI), BOX_B, DOM_B) })}
        {seg('b2', { x: 20000, y: 0 }, { x: invLogX(BOX_BI.L + BOX_BI.W, BOX_B), y: invLinY(bl(BOX_BI), BOX_B, DOM_B) })}
        {nodeLines(10)}
        <ReferenceLine y={0} stroke="#1a1a1a" strokeWidth={1.6} />
      </MainChart>
      <InsetChart box={BOX_BI} data={DATA_BI} xDomain={[1000, 20000]} xTicks={XI_LONG} yDomain={[0, 0.04]} yTicks={YI_ERR_B} yFmt={fmt2}>
        {ar('cyan', CYAN)}
        {ln('n0', BLUE, 2, 'monotone')}
        {ln('n1', ORANGE, 2.4, 'monotone')}
        {ln('n2', GREEN, 2.6, 'monotone')}
        {ln('n3', BROWN, 2, 'monotone')}
        {ln('n4', PURPLE, 3.2, 'monotone')}
        {ln('n5', BROWN, 2.8, 'monotone')}
        {ln('n6', PINK, 2, 'monotone')}
        {ln('n7', GRAY, 2, 'monotone')}
        {ln('n8', OLIVE, 2, 'monotone')}
      </InsetChart>
      <LegendBox box={[566, -3, 290, 46]} colX={[568.3, 642.7, 716.7, 790]} rowY={[7, 20.3, 33.7]}
        cols={colsOf(NODES_1, TAB, [3, 3, 2, 2])} />
      <Lab cx={710} cy={265}>Number of iterations, <i>k</i></Lab>
      <Lab cx={504} cy={145} rot><ErrLabel /></Lab>
      <Caption cx={679} cy={309} letter="b" text="Error for the optimizer - cycle configuration" />

      {/* (c) */}
      <MainChart box={BOX_C} data={DATA_C} yScale="linear" yDomain={DOM_CON} yTicks={Y_CON} yFmt={fmt2}>
        <ReferenceArea x1={500} x2={3000} y1={-0.01} y2={0.06} stroke="#8c8c8c" fill="none" strokeWidth={0.8} ifOverflow="visible" />
        {seg('c1', { x: 500, y: 0.06 }, { x: invLogX(BOX_CI.L, BOX_C), y: invLinY(BOX_CI.T, BOX_C, DOM_CON) })}
        {seg('c2', { x: 3000, y: 0.06 }, { x: invLogX(BOX_CI.L + BOX_CI.W, BOX_C), y: invLinY(BOX_CI.T, BOX_C, DOM_CON) })}
        {ar('band', CYAN, CYAN, 1.8, 'linear')}
        {nodeLines(10)}
        {ln('tol', BLACK, 1.5)}
      </MainChart>
      <InsetChart box={BOX_CI} data={DATA_CI} xDomain={[500, 3000]} xTicks={XI_SHORT} yDomain={[-0.01, 0.06]} yTicks={YI_CON} yFmt={fmt2}>
        {ar('cyan', CYAN)}
        {ar('gray', GRAY)}
        {ar('red', RED)}
        {ln('pink', PINK, 1.4, 'monotone')}
        {ln('tol', BLACK, 1.4, 'monotone')}
      </InsetChart>
      <LegendBox box={[70, 381.7, 345, 41.6]} colX={[74, 201.7, 275.3, 348.7]} rowY={[389, 402.3, 415.7]}
        cols={colsOf(['Feasiblity tolerance', ...NODES_1], [BLACK, ...TAB], [3, 3, 3, 2])} />
      <Lab cx={243} cy={645}>Number of iterations, <i>k</i></Lab>
      <Lab cx={41.5} cy={526} rot><ConLabel /></Lab>
      <Caption cx={222} cy={664} letter="c" text="Feasibility of the estimate - cycle configuration" />

      {/* (d) */}
      <MainChart box={BOX_D} data={DATA_D} yScale="symlog" yDomain={DOM_OBJ} yTicks={Y_OBJ} yFmt={fmt2}>
        <ReferenceArea x1={500} x2={3000} y1={-33.5} y2={-33.2} stroke="#8c8c8c" fill="none" strokeWidth={0.8} ifOverflow="visible" />
        {seg('d1', { x: 500, y: -33.5 }, { x: invLogX(BOX_DI.L, BOX_D), y: invSymY(bl(BOX_DI), BOX_D, DOM_OBJ) })}
        {seg('d2', { x: 3000, y: -33.5 }, { x: invLogX(BOX_DI.L + BOX_DI.W, BOX_D), y: invSymY(bl(BOX_DI), BOX_D, DOM_OBJ) })}
        {ln('opt', BLACK, 1.6)}
        {nodeLines(10)}
      </MainChart>
      <InsetChart box={BOX_DI} data={DATA_DI} xDomain={[500, 3000]} xTicks={XI_SHORT} yDomain={[-33.5, -33.2]} yTicks={YI_OBJ_D} yFmt={fmtU}>
        {ar('blue', BLUE)}
        {ar('cyan', CYAN)}
        {ar('olive', OLIVE)}
        {ar('gray', GRAY)}
        {ar('pink', PINK)}
        {ar('brown', BROWN)}
        {ar('purple', PURPLE)}
        {ln('opt', BLACK, 1.3, 'monotone')}
      </InsetChart>
      <LegendBox box={[558.3, 381.7, 314.4, 41.6]} colX={[561, 665, 738.3, 811.7]} rowY={[389, 402.3, 415.7]}
        cols={colsOf(['Optimal value', ...NODES_0], [BLACK, ...TAB], [3, 3, 3, 2])} />
      <Lab cx={715} cy={645}>Number of iterations, <i>k</i></Lab>
      <Lab cx={502} cy={520} rot><ObjLabel /></Lab>
      <Caption cx={681} cy={664} letter="d" text="Objective function value - line configuration" />

      {/* (e) */}
      <MainChart box={BOX_E} data={DATA_E} yScale="linear" yDomain={DOM_E} yTicks={Y_ERR} yFmt={fmt2}>
        <ReferenceArea x1={1000} x2={20000} y1={0} y2={0.05} stroke="#8c8c8c" fill="none" strokeWidth={0.8} ifOverflow="visible" />
        {seg('e1', { x: 1000, y: 0 }, { x: invLogX(BOX_EI.L, BOX_E), y: invLinY(bl(BOX_EI), BOX_E, DOM_E) })}
        {seg('e2', { x: 20000, y: 0 }, { x: invLogX(BOX_EI.L + BOX_EI.W, BOX_E), y: invLinY(bl(BOX_EI), BOX_E, DOM_E) })}
        {nodeLines(10)}
        <ReferenceLine y={0} stroke="#1a1a1a" strokeWidth={1.6} />
      </MainChart>
      <InsetChart box={BOX_EI} data={DATA_EI} xDomain={[1000, 20000]} xTicks={XI_LONG} yDomain={[0, 0.05]} yTicks={YI_ERR_E} yFmt={fmt2}>
        {TAB.map((c, j) => ln('n' + j, c, j === 4 ? 3.6 : 2, 'monotone'))}
      </InsetChart>
      <LegendBox box={[102.7, 762, 284.6, 43]} colX={[106, 180, 253.3, 326.7]} rowY={[770.7, 784, 797.3]}
        cols={colsOf(NODES_0, TAB, [3, 3, 2, 2])} />
      <Lab cx={244.5} cy={1028.3}>Number of iterations, <i>k</i></Lab>
      <Lab cx={38} cy={900} rot><ErrLabel /></Lab>
      <Caption cx={222} cy={1075} letter="e" text="Error for the optimizer - line configuration" />

      {/* (f) */}
      <MainChart box={BOX_F} data={DATA_F} yScale="linear" yDomain={DOM_CON} yTicks={Y_CON} yFmt={fmt2}>
        <ReferenceArea x1={500} x2={3000} y1={-0.01} y2={0.06} stroke="#8c8c8c" fill="none" strokeWidth={0.8} ifOverflow="visible" />
        {seg('f1', { x: 500, y: 0.06 }, { x: invLogX(BOX_FI.L, BOX_F), y: invLinY(BOX_FI.T, BOX_F, DOM_CON) })}
        {seg('f2', { x: 3000, y: 0.06 }, { x: invLogX(BOX_FI.L + BOX_FI.W, BOX_F), y: invLinY(BOX_FI.T, BOX_F, DOM_CON) })}
        {ar('band', CYAN, CYAN, 1.8, 'linear')}
        {nodeLines(10)}
        {ln('tol', BLACK, 1.5)}
      </MainChart>
      <InsetChart box={BOX_FI} data={DATA_FI} xDomain={[500, 3000]} xTicks={XI_SHORT} yDomain={[-0.01, 0.06]} yTicks={YI_CON} yFmt={fmt2}>
        {ar('cyan', CYAN)}
        {ar('olive', OLIVE)}
        {ar('gray', GRAY)}
        {ar('green', GREEN)}
        {ln('purple', PURPLE, 1, 'monotone')}
        {ln('tol', BLACK, 1.4, 'monotone')}
      </InsetChart>
      <LegendBox box={[540.7, 762, 338.3, 43]} colX={[544, 671.7, 745, 819]} rowY={[770.7, 784, 797.3]}
        cols={colsOf(['Feasiblity tolerance', ...NODES_0], [BLACK, ...TAB], [3, 3, 3, 2])} />
      <Lab cx={709.5} cy={1026.7}>Number of iterations, <i>k</i></Lab>
      <Lab cx={506} cy={907} rot><ConLabel /></Lab>
      <Caption cx={673.5} cy={1075} letter="f" text="Feasibility of the estimate - line configuration" />
    </div>
  );
}
